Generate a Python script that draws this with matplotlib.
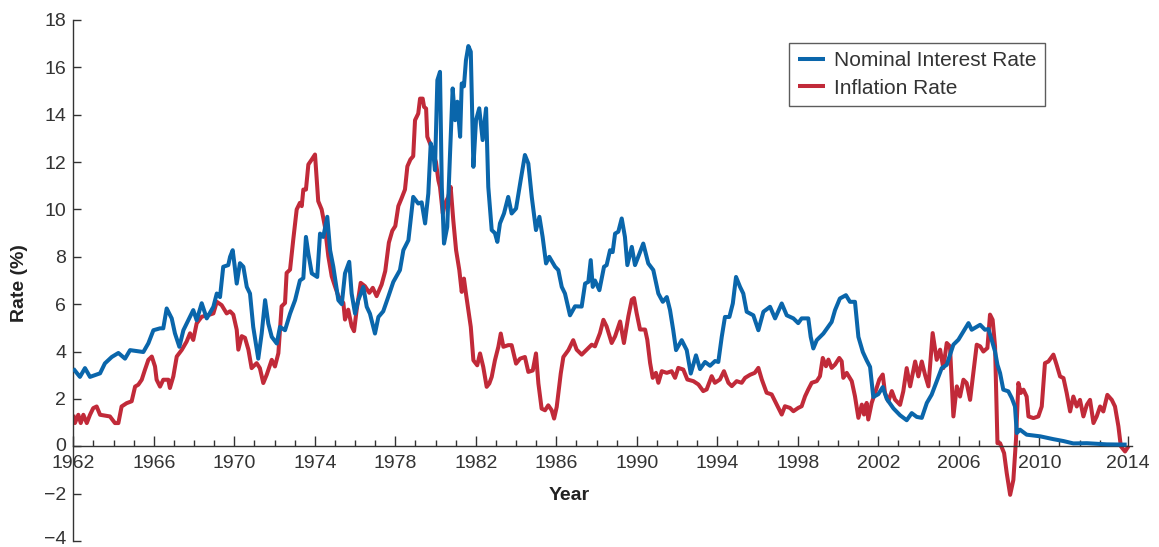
import matplotlib
matplotlib.use("Agg")
import matplotlib.pyplot as plt
import matplotlib.transforms as mtransforms
from matplotlib.ticker import FixedLocator

plt.rcParams['font.family'] = ['Liberation Sans', 'DejaVu Sans']

# ---------------- data ----------------
nominal_years = [
    1962.0, 1962.33, 1962.58, 1962.83, 1963.33, 1963.57, 1963.91, 1964.24, 1964.57, 1964.82,
    1965.48, 1965.73, 1965.98, 1966.31, 1966.47, 1966.64, 1966.89, 1967.05, 1967.27, 1967.47,
    1967.63, 1967.96, 1968.13, 1968.38, 1968.63, 1968.96, 1969.13, 1969.29, 1969.45, 1969.7,
    1969.79, 1969.92, 1970.02, 1970.12, 1970.28, 1970.45, 1970.62, 1970.78, 1970.94, 1971.19,
    1971.36, 1971.53, 1971.69, 1971.86, 1972.11, 1972.27, 1972.52, 1972.77, 1973.02, 1973.26,
    1973.43, 1973.56, 1973.68, 1973.85, 1974.12, 1974.26, 1974.42, 1974.62, 1974.76, 1974.92,
    1975.17, 1975.34, 1975.5, 1975.71, 1975.83, 1976.0, 1976.16, 1976.41, 1976.58, 1976.74,
    1976.99, 1977.16, 1977.4, 1977.65, 1977.9, 1978.23, 1978.4, 1978.65, 1978.89, 1979.14,
    1979.31, 1979.48, 1979.64, 1979.76, 1979.89, 1979.97, 1980.09, 1980.22, 1980.31, 1980.42,
    1980.58, 1980.72, 1980.85, 1980.97, 1981.08, 1981.22, 1981.3, 1981.41, 1981.51, 1981.63,
    1981.75, 1981.88, 1982.01, 1982.17, 1982.34, 1982.51, 1982.62, 1982.79, 1982.95, 1983.07,
    1983.2, 1983.4, 1983.61, 1983.78, 1984.0, 1984.23, 1984.44, 1984.61, 1984.78, 1984.99,
    1985.16, 1985.32, 1985.49, 1985.65, 1985.94, 1986.1, 1986.27, 1986.43, 1986.68, 1986.93,
    1987.26, 1987.43, 1987.59, 1987.71, 1987.81, 1987.92, 1988.14, 1988.37, 1988.5, 1988.67,
    1988.8, 1988.92, 1989.08, 1989.25, 1989.41, 1989.53, 1989.75, 1989.91, 1990.07, 1990.32,
    1990.57, 1990.82, 1991.07, 1991.29, 1991.49, 1991.65, 1991.81, 1991.95, 1992.23, 1992.48,
    1992.68, 1992.94, 1993.14, 1993.39, 1993.64, 1993.89, 1994.05, 1994.22, 1994.38, 1994.6,
    1994.77, 1994.93, 1995.13, 1995.29, 1995.46, 1995.79, 1996.04, 1996.29, 1996.62, 1996.87,
    1997.2, 1997.45, 1997.78, 1998.02, 1998.19, 1998.52, 1998.64, 1998.77, 1998.94, 1999.27,
    1999.68, 1999.85, 2000.09, 2000.39, 2000.59, 2000.84, 2001.01, 2001.23, 2001.42, 2001.59,
    2001.75, 2002.0, 2002.22, 2002.42, 2002.75, 2003.08, 2003.41, 2003.66, 2003.91, 2004.16,
    2004.41, 2004.65, 2004.9, 2005.15, 2005.4, 2005.73, 2005.98, 2006.23, 2006.48, 2006.64,
    2007.06, 2007.3, 2007.47, 2007.63, 2007.8, 2007.92, 2008.05, 2008.21, 2008.46, 2008.63,
    2008.79, 2008.88, 2009.04, 2009.37, 2010.04, 2010.7, 2011.2, 2011.69, 2012.36, 2013.35,
    2014.34,
]
nominal_rate = [
    3.28, 2.93, 3.3, 2.93, 3.08, 3.5, 3.77, 3.94, 3.7, 4.06,
    3.98, 4.35, 4.9, 4.98, 4.98, 5.82, 5.4, 4.77, 4.2, 4.9,
    5.18, 5.75, 5.32, 6.04, 5.4, 5.89, 6.45, 6.3, 7.58, 7.65,
    8.0, 8.28, 7.6, 6.87, 7.73, 7.58, 6.73, 6.45, 5.04, 3.7,
    4.76, 6.17, 5.18, 4.62, 4.34, 5.04, 4.9, 5.6, 6.17, 7.0,
    7.1, 8.84, 8.14, 7.3, 7.15, 8.98, 8.84, 9.69, 8.28, 7.58,
    6.17, 6.0, 7.3, 7.79, 6.45, 5.6, 6.17, 6.73, 5.89, 5.6,
    4.76, 5.46, 5.7, 6.31, 6.94, 7.44, 8.28, 8.7, 10.53, 10.25,
    10.3, 9.41, 10.67, 12.79, 12.37, 11.66, 15.46, 15.81, 10.95, 8.56,
    9.26, 12.37, 15.11, 13.77, 14.55, 13.07, 15.32, 15.2, 16.3, 16.9,
    16.66, 11.8, 13.77, 14.27, 12.93, 14.27, 10.95, 9.13, 9.0, 8.63,
    9.41, 9.83, 10.53, 9.83, 10.04, 11.24, 12.3, 11.94, 10.53, 9.13,
    9.69, 8.84, 7.72, 8.0, 7.58, 7.44, 6.73, 6.45, 5.53, 5.91,
    5.9, 6.87, 6.94, 7.86, 6.73, 7.0, 6.59, 7.58, 7.65, 8.28,
    8.2, 8.98, 9.06, 9.62, 8.84, 7.65, 8.42, 7.65, 8.0, 8.56,
    7.72, 7.44, 6.45, 6.1, 6.3, 5.75, 4.9, 4.06, 4.48, 4.06,
    3.07, 3.84, 3.26, 3.56, 3.4, 3.6, 3.56, 4.62, 5.46, 5.46,
    6.03, 7.15, 6.73, 6.45, 5.68, 5.53, 4.9, 5.68, 5.89, 5.4,
    6.03, 5.53, 5.4, 5.2, 5.4, 5.4, 4.62, 4.13, 4.48, 4.76,
    5.25, 5.75, 6.24, 6.38, 6.1, 6.1, 4.62, 3.98, 3.63, 3.35,
    2.08, 2.2, 2.5, 2.0, 1.6, 1.31, 1.1, 1.4, 1.24, 1.2,
    1.83, 2.18, 2.74, 3.3, 3.44, 4.29, 4.5, 4.85, 5.2, 4.92,
    5.13, 4.92, 4.95, 4.5, 4.0, 3.44, 3.09, 2.39, 2.32, 2.04,
    1.68, 0.56, 0.7, 0.49, 0.42, 0.3, 0.22, 0.12, 0.13, 0.08,
    0.07,
]

inflation_years = [
    1962.0, 1962.08, 1962.25, 1962.37, 1962.5, 1962.67, 1962.83, 1962.99, 1963.16, 1963.33,
    1963.82, 1964.07, 1964.24, 1964.4, 1964.65, 1964.9, 1965.07, 1965.23, 1965.4, 1965.56,
    1965.73, 1965.9, 1966.06, 1966.14, 1966.31, 1966.47, 1966.72, 1966.8, 1966.97, 1967.14,
    1967.39, 1967.63, 1967.8, 1967.96, 1968.13, 1968.38, 1968.71, 1968.96, 1969.13, 1969.37,
    1969.62, 1969.79, 1969.95, 1970.12, 1970.2, 1970.37, 1970.53, 1970.7, 1970.86, 1971.11,
    1971.27, 1971.44, 1971.61, 1971.86, 1972.02, 1972.19, 1972.35, 1972.52, 1972.6, 1972.77,
    1972.93, 1973.1, 1973.26, 1973.35, 1973.43, 1973.56, 1973.68, 1973.85, 1974.01, 1974.17,
    1974.34, 1974.5, 1974.67, 1974.84, 1975.0, 1975.17, 1975.42, 1975.5, 1975.66, 1975.83,
    1975.95, 1976.08, 1976.28, 1976.49, 1976.71, 1976.88, 1977.07, 1977.32, 1977.5, 1977.68,
    1977.85, 1978.0, 1978.15, 1978.32, 1978.48, 1978.6, 1978.75, 1978.89, 1978.98, 1979.14,
    1979.23, 1979.36, 1979.43, 1979.53, 1979.59, 1979.76, 1979.89, 1980.02, 1980.14, 1980.22,
    1980.36, 1980.47, 1980.63, 1980.75, 1980.88, 1981.02, 1981.18, 1981.3, 1981.41, 1981.51,
    1981.63, 1981.75, 1981.88, 1982.07, 1982.21, 1982.37, 1982.54, 1982.67, 1982.79, 1982.95,
    1983.12, 1983.24, 1983.37, 1983.61, 1983.78, 1984.0, 1984.2, 1984.44, 1984.61, 1984.83,
    1984.99, 1985.11, 1985.27, 1985.44, 1985.6, 1985.77, 1985.89, 1986.02, 1986.22, 1986.35,
    1986.6, 1986.84, 1987.01, 1987.26, 1987.51, 1987.76, 1987.92, 1988.17, 1988.34, 1988.5,
    1988.75, 1988.92, 1989.17, 1989.36, 1989.58, 1989.75, 1989.86, 1989.99, 1990.16, 1990.41,
    1990.52, 1990.66, 1990.79, 1990.95, 1991.07, 1991.24, 1991.49, 1991.73, 1991.9, 1992.06,
    1992.31, 1992.51, 1992.81, 1993.06, 1993.3, 1993.47, 1993.72, 1993.88, 1994.13, 1994.33,
    1994.55, 1994.72, 1994.96, 1995.21, 1995.38, 1995.63, 1995.86, 1996.04, 1996.21, 1996.45,
    1996.7, 1996.87, 1997.03, 1997.2, 1997.36, 1997.61, 1997.78, 1998.02, 1998.19, 1998.36,
    1998.52, 1998.69, 1998.94, 1999.1, 1999.24, 1999.4, 1999.52, 1999.68, 1999.85, 2000.06,
    2000.18, 2000.26, 2000.43, 2000.68, 2000.84, 2001.01, 2001.18, 2001.29, 2001.42, 2001.5,
    2001.67, 2001.84, 2002.05, 2002.22, 2002.33, 2002.5, 2002.67, 2002.83, 2003.08, 2003.24,
    2003.41, 2003.58, 2003.83, 2003.99, 2004.16, 2004.32, 2004.49, 2004.7, 2004.9, 2005.07,
    2005.23, 2005.4, 2005.56, 2005.73, 2005.9, 2006.06, 2006.23, 2006.39, 2006.56, 2006.72,
    2006.89, 2007.06, 2007.22, 2007.42, 2007.55, 2007.68, 2007.8, 2007.92, 2008.05, 2008.25,
    2008.38, 2008.55, 2008.71, 2008.84, 2008.96, 2009.08, 2009.21, 2009.37, 2009.46, 2009.71,
    2009.95, 2010.12, 2010.28, 2010.45, 2010.7, 2010.86, 2011.03, 2011.2, 2011.36, 2011.53,
    2011.69, 2011.86, 2012.02, 2012.19, 2012.36, 2012.52, 2012.69, 2012.85, 2013.02, 2013.18,
    2013.38, 2013.6, 2013.76, 2013.93, 2014.05, 2014.26, 2014.43,
]
inflation_rate = [
    1.33, 0.98, 1.33, 0.98, 1.33, 0.98, 1.33, 1.61, 1.68, 1.33,
    1.26, 0.98, 0.98, 1.68, 1.82, 1.9, 2.52, 2.6, 2.81, 3.23,
    3.65, 3.79, 3.37, 2.81, 2.52, 2.81, 2.81, 2.46, 2.95, 3.79,
    4.07, 4.42, 4.77, 4.49, 5.19, 5.47, 5.54, 5.61, 6.1, 5.96,
    5.61, 5.7, 5.56, 4.92, 4.08, 4.65, 4.58, 4.08, 3.3, 3.51,
    3.3, 2.67, 3.02, 3.65, 3.37, 3.93, 5.91, 6.05, 7.32, 7.46,
    8.73, 10.0, 10.28, 10.14, 10.84, 10.84, 11.9, 12.11, 12.32, 10.35,
    10.0, 9.29, 8.03, 7.18, 6.76, 6.34, 6.05, 5.35, 5.77, 5.07,
    4.86, 5.77, 6.9, 6.76, 6.48, 6.69, 6.34, 6.83, 7.4, 8.6,
    9.1, 9.3, 10.14, 10.49, 10.84, 11.82, 12.11, 12.25, 13.77, 14.05,
    14.68, 14.68, 14.33, 14.26, 13.07, 12.71, 12.36, 12.0, 11.23, 10.95,
    9.83, 10.25, 10.53, 10.95, 9.55, 8.28, 7.44, 6.52, 7.08, 6.45,
    5.75, 5.04, 3.63, 3.42, 3.92, 3.35, 2.51, 2.65, 2.93, 3.63,
    4.2, 4.76, 4.2, 4.27, 4.27, 3.49, 3.7, 3.77, 3.14, 3.2,
    3.92, 2.65, 1.59, 1.52, 1.73, 1.52, 1.17, 1.66, 3.07, 3.77,
    4.06, 4.48, 4.08, 3.87, 4.08, 4.29, 4.22, 4.78, 5.34, 5.06,
    4.36, 4.64, 5.27, 4.36, 5.49, 6.19, 6.26, 5.63, 4.93, 4.93,
    4.5, 3.52, 2.89, 3.1, 2.68, 3.17, 3.1, 3.17, 2.89, 3.31,
    3.24, 2.82, 2.75, 2.61, 2.33, 2.4, 2.96, 2.68, 2.82, 3.17,
    2.68, 2.54, 2.75, 2.68, 2.89, 3.02, 3.1, 3.31, 2.82, 2.26,
    2.19, 1.9, 1.62, 1.34, 1.69, 1.62, 1.48, 1.62, 1.69, 2.11,
    2.4, 2.68, 2.75, 2.96, 3.73, 3.38, 3.66, 3.31, 3.45, 3.73,
    3.59, 2.89, 3.1, 2.75, 2.11, 1.2, 1.76, 1.34, 1.83, 1.13,
    1.83, 2.26, 2.82, 3.03, 2.26, 1.9, 2.33, 1.97, 1.75, 2.32,
    3.3, 2.53, 3.58, 2.95, 3.58, 3.02, 2.53, 4.78, 3.65, 4.08,
    3.3, 4.36, 4.22, 1.26, 2.53, 2.1, 2.81, 2.67, 1.96, 3.09,
    4.29, 4.22, 4.0, 4.15, 5.56, 5.34, 4.22, 0.13, 0.13, -0.29,
    -1.13, -2.05, -1.42, 0.27, 2.67, 2.25, 2.39, 2.1, 1.26, 1.19,
    1.26, 1.68, 3.51, 3.58, 3.87, 3.44, 2.95, 2.88, 2.25, 1.47,
    2.1, 1.68, 1.96, 1.26, 1.75, 1.96, 0.98, 1.26, 1.68, 1.47,
    2.17, 1.96, 1.68, 0.84, 0.0, -0.22, 0.0,
]

series_labels = ["Nominal Interest Rate", "Inflation Rate"]
x_tick_labels = ["1962", "1966", "1970", "1974", "1978", "1982", "1986", "1990",
                 "1994", "1998", "2002", "2006", "2010", "2014"]
y_ticks = [-4, -2, 0, 2, 4, 6, 8, 10, 12, 14, 16, 18]

# ---------------- figure ----------------
W, H = 1159, 547
fig = plt.figure(figsize=(W / 100, H / 100), dpi=100)
x0, x1 = 73.3, 1131.7
ytop, ybot = 20.0, 541.0
ax = fig.add_axes([x0 / W, 1 - ybot / H, (x1 - x0) / W, (ybot - ytop) / H])

BLUE = '#0a66ab'
RED = '#c12a39'
AXC = '#333333'

ax.plot(inflation_years, inflation_rate, color=RED, lw=2.9,
        solid_joinstyle='round', solid_capstyle='butt', label=series_labels[1], zorder=2)
ax.plot(nominal_years, nominal_rate, color=BLUE, lw=2.9,
        solid_joinstyle='round', solid_capstyle='butt', label=series_labels[0], zorder=3)

ax.set_xlim(1962, 2014.59)
ax.set_ylim(-4, 18)

for s in ['top', 'right']:
    ax.spines[s].set_visible(False)
ax.spines['bottom'].set_position(('data', 0))
ax.spines['bottom'].set_color(AXC)
ax.spines['left'].set_color(AXC)
ax.spines['bottom'].set_linewidth(1.0)
ax.spines['left'].set_linewidth(1.0)

major_x = [1962 + 4 * i for i in range(13)] + [2014.42]
ax.xaxis.set_major_locator(FixedLocator(major_x))
ax.set_xticklabels(x_tick_labels)
ax.xaxis.set_minor_locator(FixedLocator([y for y in range(1963, 2014) if (y - 1962) % 4 != 0]))
ax.tick_params(axis='x', which='major', direction='in', length=7, width=1.0,
               color=AXC, labelsize=14, labelcolor='#333333', pad=6.5)
ax.tick_params(axis='x', which='minor', direction='in', length=4, width=1.0, color=AXC)

ax.set_yticks(y_ticks)
ax.set_yticklabels([("\u2212" + str(-v)) if v < 0 else str(v) for v in y_ticks])
ax.tick_params(axis='y', which='major', direction='in', length=6, width=1.0,
               color=AXC, labelsize=14, labelcolor='#333333', pad=5)
# nudge the edge labels slightly so they stay clear of the x labels / figure edge
for lbl in ax.get_yticklabels():
    if lbl.get_text() == "\u22124":
        lbl.set_transform(lbl.get_transform() +
                          mtransforms.ScaledTranslation(0, 3 / 100, fig.dpi_scale_trans))
    elif lbl.get_text() == "0":
        lbl.set_transform(lbl.get_transform() +
                          mtransforms.ScaledTranslation(0, 2 / 100, fig.dpi_scale_trans))

fig.text(20 / W, 1 - 283 / H, "Rate (%)", rotation=90, ha='center', va='center',
         fontsize=14, fontweight='bold', color='#222222')
fig.text(569 / W, 1 - 495 / H, "Year", ha='center', va='center',
         fontsize=14, fontweight='bold', color='#222222')

handles, labels = ax.get_legend_handles_labels()
order = [1, 0]
leg = fig.legend([handles[i] for i in order], [labels[i] for i in order],
                 loc='upper left', bbox_to_anchor=(789 / W, 1 - 42.5 / H),
                 fontsize=15, frameon=True, fancybox=False, handlelength=1.3,
                 handletextpad=0.45, labelspacing=0.4, borderpad=0.42,
                 borderaxespad=0)
leg.get_frame().set_edgecolor('#333333')
leg.get_frame().set_linewidth(1.0)
for t in leg.get_texts():
    t.set_color('#333333')

fig.savefig('out.png', dpi=100)
